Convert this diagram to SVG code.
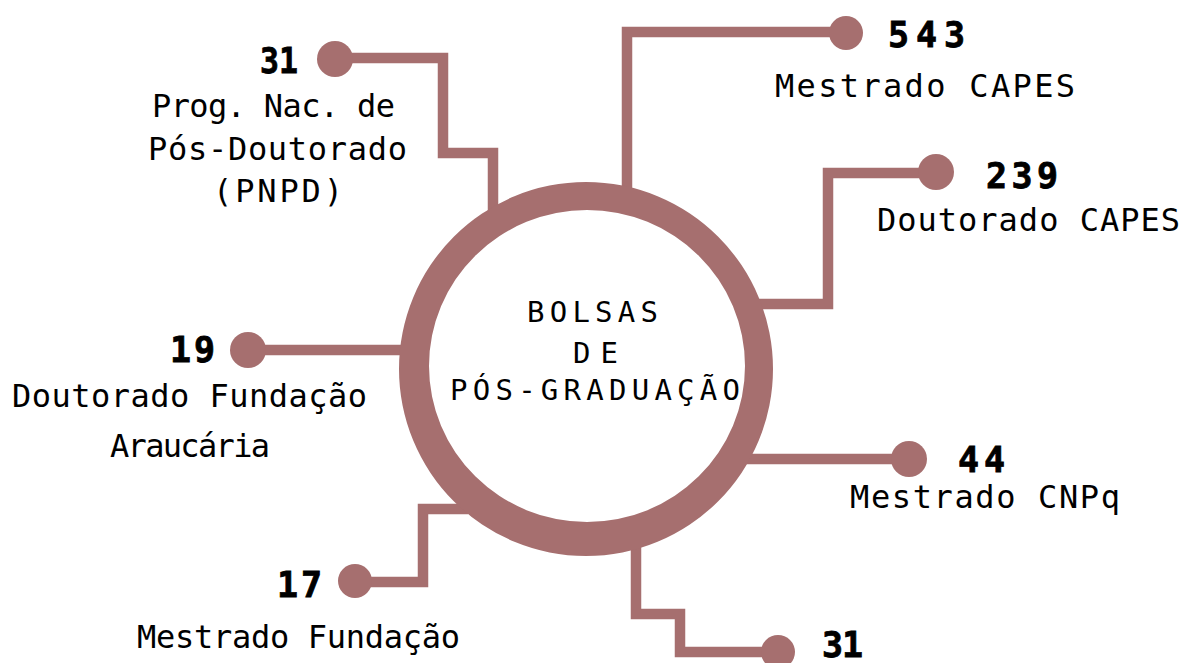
<svg xmlns="http://www.w3.org/2000/svg" width="1191" height="663" viewBox="0 0 1191 663">
<style>
.wire{fill:none;stroke:#A66F6F;stroke-width:10.5;stroke-linejoin:miter;stroke-linecap:butt}
.dot{fill:#A66F6F}
.ring{fill:#A66F6F;fill-rule:evenodd}
.lbl{font-family:"DejaVu Sans Mono","Liberation Mono",monospace;font-size:32px;fill:#000}
.num{font-family:"DejaVu Sans Mono","Liberation Mono",monospace;font-size:35px;font-weight:bold;fill:#000;stroke:#000;stroke-width:0.8}
.ctr{font-family:"DejaVu Sans Mono","Liberation Mono",monospace;font-size:29px;fill:#000}
</style>
<rect width="1191" height="663" fill="#fff"/>
<g id="connectors">
<path class="wire" d="M335 58 H443 V153 H493 V218"/>
<path class="wire" d="M627 195 V32 H846"/>
<path class="wire" d="M936 173 H828 V304 H755"/>
<path class="wire" d="M909 459 H745"/>
<path class="wire" d="M248 350 H405"/>
<path class="wire" d="M355 582 H423 V509 H468"/>
<path class="wire" d="M636 540 V614 H680 V652 H778"/>
</g>
<g id="center">
<path class="ring" d="M399 369 A187 187 0 1 0 773 369 A187 187 0 1 0 399 369 Z M429 366 A158 156 0 1 0 745 366 A158 156 0 1 0 429 366 Z"/>
<text class="ctr" x="527" y="322" textLength="131" lengthAdjust="spacing">BOLSAS</text>
<text class="ctr" x="573" y="363" textLength="45" lengthAdjust="spacing">DE</text>
<text class="ctr" x="450" y="400" textLength="290" lengthAdjust="spacing">PÓS-GRADUAÇÃO</text>
</g>
<g id="pnpd">
<circle class="dot" cx="335" cy="59" r="18"/>
<text class="num" x="260" y="73" textLength="38" lengthAdjust="spacingAndGlyphs">31</text>
<text class="lbl" x="152" y="117" textLength="243" lengthAdjust="spacing">Prog. Nac. de</text>
<text class="lbl" x="148" y="160" textLength="259" lengthAdjust="spacing">Pós-Doutorado</text>
<text class="lbl" x="213" y="202" textLength="130" lengthAdjust="spacing">(PNPD)</text>
</g>
<g id="mestrado-capes">
<circle class="dot" cx="846" cy="33" r="17"/>
<text class="num" x="888" y="47" textLength="77" lengthAdjust="spacing">543</text>
<text class="lbl" x="775" y="97" textLength="300" lengthAdjust="spacing">Mestrado CAPES</text>
</g>
<g id="doutorado-capes">
<circle class="dot" cx="936" cy="172" r="18"/>
<text class="num" x="986" y="188" textLength="72" lengthAdjust="spacing">239</text>
<text class="lbl" x="877" y="231" textLength="303" lengthAdjust="spacing">Doutorado CAPES</text>
</g>
<g id="mestrado-cnpq">
<circle class="dot" cx="909" cy="459" r="18"/>
<text class="num" x="958" y="472" textLength="47" lengthAdjust="spacing">44</text>
<text class="lbl" x="850" y="508" textLength="270" lengthAdjust="spacing">Mestrado CNPq</text>
</g>
<g id="doutorado-fundacao">
<circle class="dot" cx="248" cy="350" r="18"/>
<text class="num" x="170" y="362" textLength="45" lengthAdjust="spacing">19</text>
<text class="lbl" x="12" y="407" textLength="355" lengthAdjust="spacing">Doutorado Fundação</text>
<text class="lbl" x="110" y="457" textLength="160" lengthAdjust="spacing">Araucária</text>
</g>
<g id="mestrado-fundacao">
<circle class="dot" cx="355" cy="581" r="17"/>
<text class="num" x="277" y="597" textLength="45" lengthAdjust="spacing">17</text>
<text class="lbl" x="137" y="648" textLength="323" lengthAdjust="spacing">Mestrado Fundação</text>
</g>
<g id="bottom-31">
<circle class="dot" cx="778" cy="652" r="17"/>
<text class="num" x="822" y="657" textLength="41" lengthAdjust="spacing">31</text>
</g>
</svg>
